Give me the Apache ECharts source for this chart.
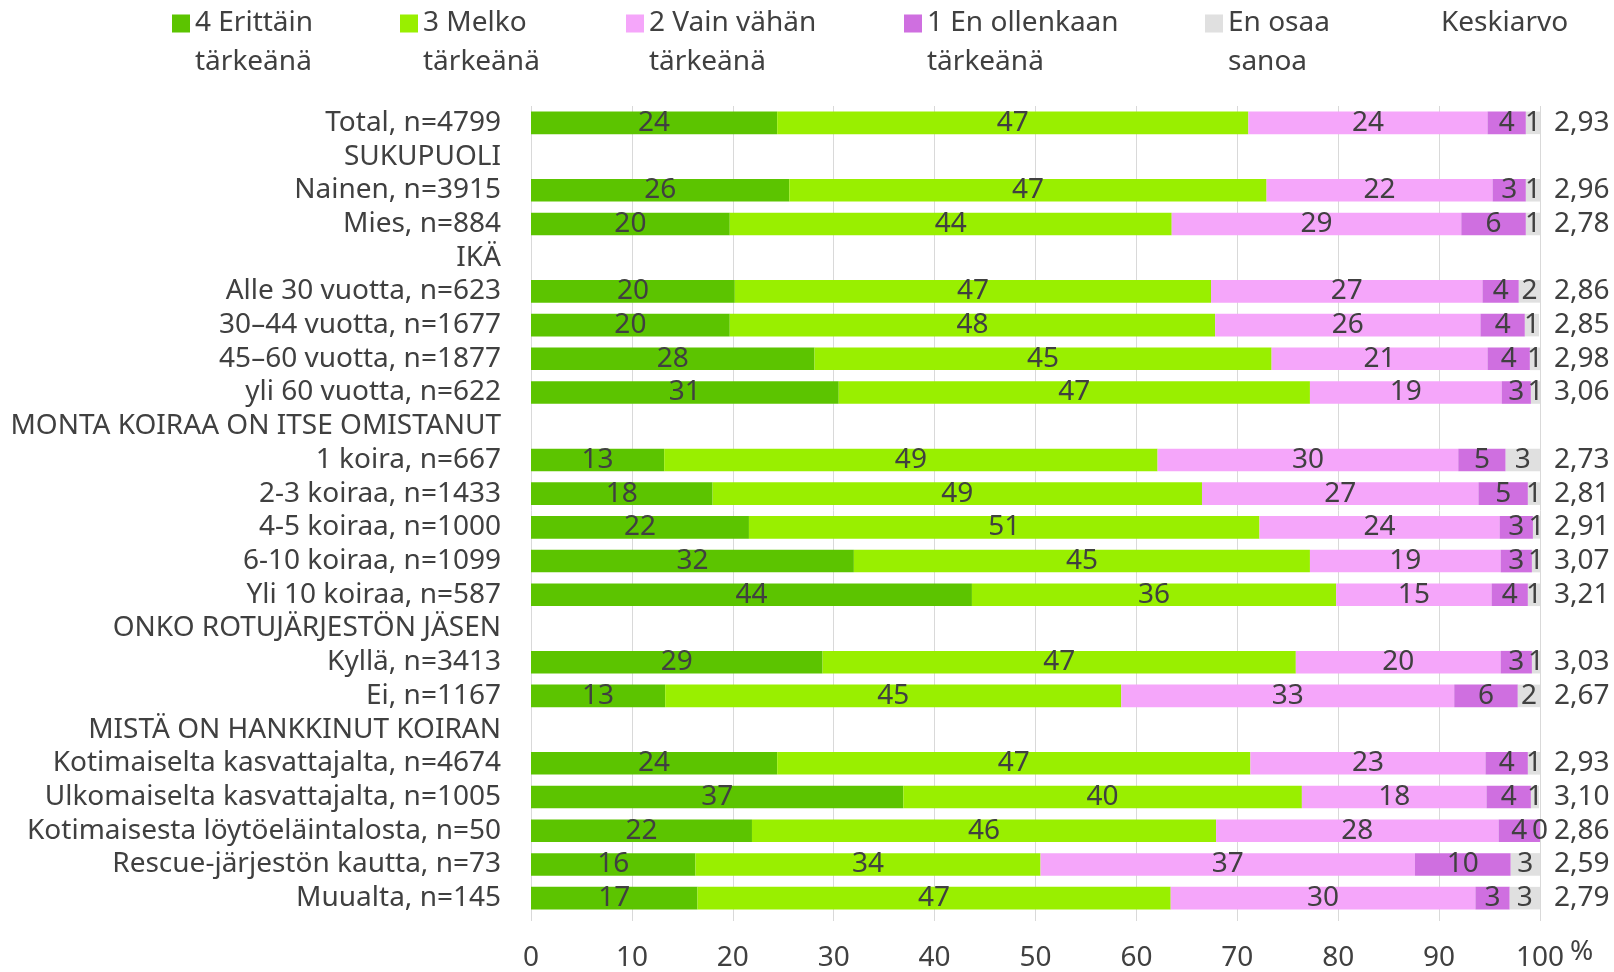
<!DOCTYPE html>
<html>
<head>
<meta charset="utf-8">
<script src="https://cdn.jsdelivr.net/npm/echarts@6/dist/echarts.min.js"></script>
<style>
  html, body { margin: 0; padding: 0; background: #fff; }
  #chart { width: 1614px; height: 972px; }
</style>
</head>
<body>
<div id="chart"></div>
<script>
// rows from top to bottom, header rows have no bars
const categories = [
  'Total, n=4799', 'SUKUPUOLI', 'Nainen, n=3915', 'Mies, n=884', 'IKÄ',
  'Alle 30 vuotta, n=623', '30–44 vuotta, n=1677', '45–60 vuotta, n=1877', 'yli 60 vuotta, n=622',
  'MONTA KOIRAA ON ITSE OMISTANUT', '1 koira, n=667', '2-3 koiraa, n=1433', '4-5 koiraa, n=1000',
  '6-10 koiraa, n=1099', 'Yli 10 koiraa, n=587', 'ONKO ROTUJÄRJESTÖN JÄSEN', 'Kyllä, n=3413',
  'Ei, n=1167', 'MISTÄ ON HANKKINUT KOIRAN', 'Kotimaiselta kasvattajalta, n=4674',
  'Ulkomaiselta kasvattajalta, n=1005', 'Kotimaisesta löytöeläintalosta, n=50',
  'Rescue-järjestön kautta, n=73', 'Muualta, n=145'
];

const seriesNames = ['4 Erittäin tärkeänä', '3 Melko tärkeänä', '2 Vain vähän tärkeänä',
  '1 En ollenkaan tärkeänä', 'En osaa sanoa'];

const erittain = [24.4, null, 25.6, 19.7, null, 20.2, 19.7, 28.1, 30.5, null, 13.2, 18.0, 21.6, 32.0, 43.7, null, 28.9, 13.3, null, 24.4, 36.9, 21.9, 16.3, 16.5];
const melko    = [46.7, null, 47.3, 43.8, null, 47.2, 48.1, 45.3, 46.7, null, 48.9, 48.5, 50.6, 45.2, 36.1, null, 46.9, 45.2, null, 46.9, 39.5, 46.0, 34.2, 46.9];
const vahan    = [23.7, null, 22.4, 28.7, null, 26.9, 26.3, 21.4, 19.0, null, 29.8, 27.4, 23.8, 18.9, 15.4, null, 20.3, 33.0, null, 23.3, 18.3, 28.0, 37.1, 30.2];
const eiLainkaan = [3.8, null, 3.3, 6.4, null, 3.6, 4.4, 4.2, 2.9, null, 4.7, 4.9, 3.3, 3.1, 3.6, null, 3.1, 6.3, null, 4.2, 4.4, 4.1, 9.5, 3.4];
const eos      = [1.4, null, 1.4, 1.4, null, 2.1, 1.4, 1.0, 0.9, null, 3.4, 1.2, 0.7, 0.8, 1.2, null, 0.8, 2.2, null, 1.2, 0.8, 0, 2.9, 3.0];

const keskiarvo = ['2,93', '', '2,96', '2,78', '', '2,86', '2,85', '2,98', '3,06', '', '2,73', '2,81', '2,91',
  '3,07', '3,21', '', '3,03', '2,67', '', '2,93', '3,10', '2,86', '2,59', '2,79'];

const xTicks = [0, 10, 20, 30, 40, 50, 60, 70, 80, 90, 100];

const colors = ['#5cc400', '#99ef00', '#f5a6fa', '#cf6fe0', '#e0e0e0'];
const values = [erittain, melko, vahan, eiLainkaan, eos];

const FONT = 'Noto Sans';
const FS = 28;
const TXT = '#404040';

var chart = echarts.init(document.getElementById('chart'));

// legend icon: square on the first text line of a two-line label
const ICON = 'path://M0,0h0.1v0.1h-0.1z M0,10.5h18v18h-18z M0,77.9h0.1v0.1h-0.1z';
const legendLeft = [172, 400, 626, 904, 1205];

var option = {
  animation: false,
  textStyle: { fontFamily: FONT },
  legend: seriesNames.map((name, i) => ({
    data: [name],
    left: legendLeft[i],
    top: 4,
    padding: 0,
    icon: ICON,
    itemWidth: 18,
    itemHeight: 78,
    selectedMode: false,
    formatter: n => n.replace(/ (\S+)$/, '\n$1'),
    textStyle: { fontFamily: FONT, fontSize: FS, color: TXT, lineHeight: 39 }
  })),
  graphic: [{
    type: 'text',
    left: 1441,
    top: 9,
    style: { text: 'Keskiarvo', font: FS + 'px "' + FONT + '"', fill: TXT }
  }],
  grid: { left: 531, right: 74, top: 106, bottom: 54, containLabel: false },
  xAxis: {
    type: 'value',
    min: 0,
    max: 100,
    interval: 10,
    name: '%',
    nameLocation: 'end',
    nameGap: 12,
    nameTextStyle: { fontFamily: FONT, fontSize: FS, color: TXT, verticalAlign: 'top', padding: [23, 0, 0, 0] },
    axisLine: { show: false },
    axisTick: { show: true, length: 6, lineStyle: { color: '#d9d9d9' } },
    splitLine: { show: true, lineStyle: { color: '#d9d9d9', width: 1 } },
    axisLabel: {
      margin: 29,
      fontSize: FS,
      color: TXT,
      fontFamily: FONT,
      formatter: v => xTicks.indexOf(v) >= 0 ? String(v) : ''
    }
  },
  yAxis: [{
    type: 'category',
    data: categories,
    inverse: true,
    axisLine: { show: false },
    axisTick: { show: false },
    axisLabel: { interval: 0, margin: 30, fontSize: FS, color: TXT, fontFamily: FONT }
  }, {
    type: 'category',
    data: keskiarvo,
    inverse: true,
    position: 'right',
    axisLine: { show: false },
    axisTick: { show: false },
    axisLabel: { interval: 0, margin: 14, fontSize: FS, color: TXT, fontFamily: FONT }
  }],
  series: seriesNames.map((name, i) => ({
    name: name,
    type: 'bar',
    stack: 'total',
    barWidth: '67%',
    yAxisIndex: 0,
    data: values[i],
    itemStyle: { color: colors[i] },
    label: {
      show: true,
      position: 'inside',
      color: TXT,
      fontSize: FS,
      fontFamily: FONT,
      formatter: p => p.value == null ? '' : String(Math.round(p.value))
    }
  }))
};

chart.setOption(option);
</script>
</body>
</html>
